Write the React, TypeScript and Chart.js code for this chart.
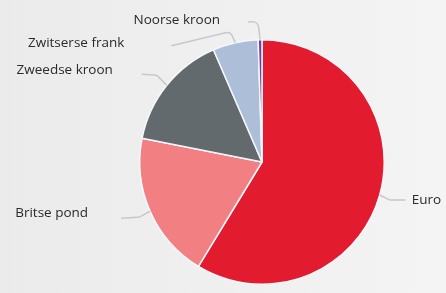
import React, { useEffect, useRef } from "react";
import { Chart, registerables } from "chart.js";

Chart.register(...registerables);

const categories = ["Euro", "Britse pond", "Zweedse kroon", "Zwitserse frank", "Noorse kroon"];
const shares = [58.7, 19.4, 15.4, 6.0, 0.5];
const colors = ["#e31b2e", "#f28083", "#626a6d", "#adbfd8", "#6b3fa0"];

// label layout: offsets relative to the slice's outer-edge midpoint
const labelLayout = [
  { elbow: [10, 5], end: [26, 5], text: [32, 9], align: "left" },
  { elbow: [-11, 6], end: [-29, 7], text: [-62, 6], align: "right" },
  { elbow: [-10, -10], end: [-25, -11], text: [-54, -11], align: "right" },
  { elbow: [-5, -11], end: [-64, 3], text: [-111, 4], align: "right" },
  { elbow: [-2, -18], end: [-12, -18], text: [-40, -16], align: "right" },
];

const leaderPlugin = {
  id: "leaders",
  afterDatasetsDraw(chart: any) {
    const ctx = chart.ctx;
    const meta = chart.getDatasetMeta(0);
    ctx.save();
    meta.data.forEach((arc: any, i: number) => {
      const { x, y, startAngle, endAngle, outerRadius } = arc.getProps(
        ["x", "y", "startAngle", "endAngle", "outerRadius"],
        true
      );
      const mid = (startAngle + endAngle) / 2;
      const ex = x + Math.cos(mid) * outerRadius;
      const ey = y + Math.sin(mid) * outerRadius;
      const L = labelLayout[i];
      ctx.beginPath();
      ctx.strokeStyle = "#c8c8c8";
      ctx.lineWidth = 1.5;
      ctx.moveTo(ex, ey);
      ctx.arcTo(ex + L.elbow[0], ey + L.elbow[1], ex + L.end[0], ey + L.end[1], 6);
      ctx.lineTo(ex + L.end[0], ey + L.end[1]);
      ctx.stroke();
      ctx.fillStyle = "#2a2a2a";
      ctx.font = "13.5px 'Open Sans'";
      ctx.textAlign = L.align;
      ctx.textBaseline = "alphabetic";
      ctx.fillText(categories[i], ex + L.text[0], ey + L.text[1]);
    });
    ctx.restore();
  },
};

export default function App() {
  const ref = useRef<HTMLCanvasElement>(null);
  useEffect(() => {
    const chart = new Chart(ref.current!, {
      type: "pie",
      data: {
        labels: categories,
        datasets: [
          {
            data: shares,
            backgroundColor: colors,
            borderColor: "#f4f8fb",
            borderWidth: 1.5,
          },
        ],
      },
      options: {
        animation: false,
        responsive: false,
        layout: { padding: { left: 139, right: 61, top: 39, bottom: 8 } },
        plugins: { legend: { display: false }, tooltip: { enabled: false } },
      },
      plugins: [leaderPlugin],
    });
    return () => chart.destroy();
  }, []);
  return (
    <div
      style={{
        position: "absolute",
        left: 0,
        top: 0,
        width: 446,
        height: 293,
        background: "linear-gradient(to right, #ebebeb, #f4f4f4)",
      }}
    >
      <canvas ref={ref} width={446} height={293} style={{ display: "block" }} />
    </div>
  );
}
